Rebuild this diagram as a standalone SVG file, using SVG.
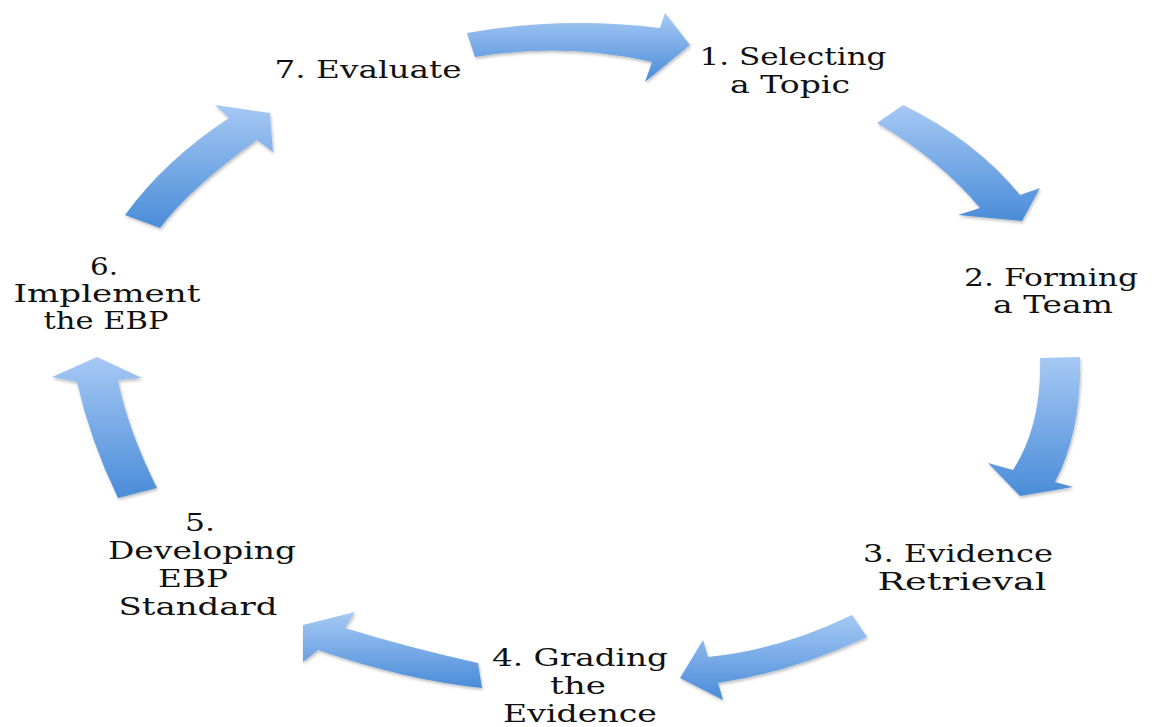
<svg xmlns="http://www.w3.org/2000/svg" width="1152" height="727" viewBox="0 0 1152 727">
  <defs>
    <linearGradient id="blue" x1="0" y1="0" x2="0" y2="1">
      <stop offset="0" stop-color="#a6c9f4"/>
      <stop offset="1" stop-color="#4a8cd8"/>
    </linearGradient>
    <filter id="shadow" x="-20%" y="-20%" width="140%" height="140%">
      <feDropShadow dx="1" dy="2" stdDeviation="1.5" flood-color="#000" flood-opacity="0.25"/>
    </filter>
  </defs>
  <style>
    .arrow { fill: url(#blue); filter: url(#shadow); }
    .lbl { font-family: "DejaVu Serif", "Liberation Serif", serif; font-size: 25px; fill: #111; text-anchor: middle; }
  </style>
  <rect width="1152" height="727" fill="#ffffff"/>

  <g id="connectors">
    <path class="arrow" d="M467,33 Q560,16 660,28 L665,13 L690,45 L645,82 L652,62 Q565,42 475,57 Z"/>
    <path class="arrow" d="M903,105 Q975,140 1020,195 L1040,188 L1022,221 L958,215 L980,208 Q940,160 877,123 Z"/>
    <path class="arrow" d="M1040,358 L1080,357 Q1082,430 1055,482 L1073,487 L1020,496 L988,463 L1013,470 Q1042,425 1040,358 Z"/>
    <path class="arrow" d="M852,615 L867,637 Q792,672 718,683 L723,700 L680,678 L703,640 L708,657 Q780,650 852,615 Z"/>
    <path class="arrow" d="M478,663 L482,688 Q405,680 318,650 L303,662 L303,625 L355,612 L345,628 Q410,648 478,663 Z"/>
    <path class="arrow" d="M97,357 L142,378 L118,380 Q128,430 157,488 L118,498 Q90,440 77,382 L52,377 Z"/>
    <path class="arrow" d="M125,215 Q165,160 229,118 L215,105 L270,113 L273,152 L257,140 Q190,188 160,228 Z"/>
  </g>

  <g id="node1">
    <text class="lbl" x="793" y="65" textLength="187" lengthAdjust="spacingAndGlyphs">1. Selecting</text>
    <text class="lbl" x="790" y="93" textLength="120" lengthAdjust="spacingAndGlyphs">a Topic</text>
  </g>
  <g id="node2">
    <text class="lbl" x="1051" y="286" textLength="174" lengthAdjust="spacingAndGlyphs">2. Forming</text>
    <text class="lbl" x="1053" y="313" textLength="120" lengthAdjust="spacingAndGlyphs">a Team</text>
  </g>
  <g id="node3">
    <text class="lbl" x="958" y="562" textLength="190" lengthAdjust="spacingAndGlyphs">3. Evidence</text>
    <text class="lbl" x="962" y="590" textLength="169" lengthAdjust="spacingAndGlyphs">Retrieval</text>
  </g>
  <g id="node4">
    <text class="lbl" x="580" y="666" textLength="176" lengthAdjust="spacingAndGlyphs">4. Grading</text>
    <text class="lbl" x="578" y="694" textLength="56" lengthAdjust="spacingAndGlyphs">the</text>
    <text class="lbl" x="580" y="722" textLength="154" lengthAdjust="spacingAndGlyphs">Evidence</text>
  </g>
  <g id="node5">
    <text class="lbl" x="200" y="531" textLength="30" lengthAdjust="spacingAndGlyphs">5.</text>
    <text class="lbl" x="202" y="559" textLength="188" lengthAdjust="spacingAndGlyphs">Developing</text>
    <text class="lbl" x="193" y="587" textLength="70" lengthAdjust="spacingAndGlyphs">EBP</text>
    <text class="lbl" x="198" y="615" textLength="159" lengthAdjust="spacingAndGlyphs">Standard</text>
  </g>
  <g id="node6">
    <text class="lbl" x="104" y="275" textLength="28" lengthAdjust="spacingAndGlyphs">6.</text>
    <text class="lbl" x="107" y="302" textLength="187" lengthAdjust="spacingAndGlyphs">Implement</text>
    <text class="lbl" x="106" y="329" textLength="125" lengthAdjust="spacingAndGlyphs">the EBP</text>
  </g>
  <g id="node7">
    <text class="lbl" x="368" y="78" textLength="187" lengthAdjust="spacingAndGlyphs">7. Evaluate</text>
  </g>
</svg>
